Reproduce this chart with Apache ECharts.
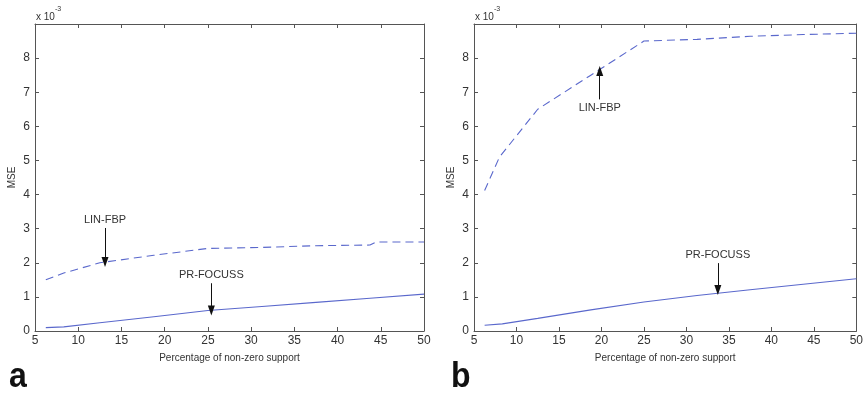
<!DOCTYPE html>
<html><head><meta charset="utf-8">
<script src="https://cdn.jsdelivr.net/npm/echarts@6/dist/echarts.min.js"></script>
<style>html,body{margin:0;padding:0;background:#fff}#c{width:866px;height:398px}</style>
</head><body><div id="c"></div>
<script>
// ---- data ----
var xTicks = [5,10,15,20,25,30,35,40,45,50];
var yTicks = [0,1,2,3,4,5,6,7,8];
// panel a
var aLinX = [6.25, 8.33, 12.5, 18.75, 25, 31.25, 37.5, 43.75, 44.5, 50];
var aLinY = [1.50, 1.70, 2.00, 2.22, 2.42, 2.45, 2.50, 2.52, 2.61, 2.61];
var aPrX  = [6.25, 8.33, 12.5, 18.75, 25, 31.25, 37.5, 43.75, 50];
var aPrY  = [0.10, 0.12, 0.24, 0.42, 0.60, 0.72, 0.84, 0.96, 1.08];
// panel b
var bLinX = [6.25, 8.0, 12.5, 18.75, 25, 31.25, 37.5, 43.75, 50];
var bLinY = [4.12, 5.10, 6.50, 7.50, 8.50, 8.55, 8.64, 8.69, 8.73];
var bPrX  = [6.25, 8.33, 12.5, 18.75, 25, 31.25, 37.5, 43.75, 50];
var bPrY  = [0.17, 0.21, 0.37, 0.62, 0.85, 1.04, 1.21, 1.37, 1.53];
// annotations: [label, x, yStart, yTip]
var annA = [["LIN-FBP", 13.1, 3.02, 2.02], ["PR-FOCUSS", 25.4, 1.40, 0.60]];
var annB = [["LIN-FBP", 19.8, 6.79, 7.62], ["PR-FOCUSS", 33.7, 1.99, 1.20]];
var panelLetters = ["a", "b"];

function pairs(xs, ys){ return xs.map(function(x,i){ return [x, ys[i]]; }); }

var axisCol = '#555';
var txtCol = '#333';
var lineCol = '#5a68cc';
var font = 'Liberation Sans, Arial, sans-serif';

var grids = [
  {left:35, right:442, top:24, bottom:67},
  {left:474, right:3, top:24, bottom:67}
];

var xAxes = [], yAxes = [];
grids.forEach(function(g, gi){
  xAxes.push({
    gridIndex: gi, type:'value', min:5, max:50, interval:5, position:'bottom',
    name:'Percentage of non-zero support', nameLocation:'middle', nameGap:22,
    nameTextStyle:{color:txtCol, fontSize:10, fontFamily:font},
    axisLine:{show:true, onZero:false, lineStyle:{color:axisCol, width:1}},
    axisTick:{show:true, inside:true, length:4, lineStyle:{color:axisCol}},
    axisLabel:{color:txtCol, fontSize:12, fontFamily:font, margin:4, showMinLabel:true, showMaxLabel:true},
    splitLine:{show:false}
  });
  xAxes.push({
    gridIndex: gi, type:'value', min:5, max:50, interval:5, position:'top',
    axisLine:{show:true, onZero:false, lineStyle:{color:axisCol, width:1}},
    axisTick:{show:true, inside:true, length:4, lineStyle:{color:axisCol}},
    axisLabel:{show:false}, splitLine:{show:false}
  });
  yAxes.push({
    gridIndex: gi, type:'value', min:0, max:9, interval:1, position:'left',
    name:'MSE', nameLocation:'middle', nameGap:18, nameRotate:90,
    nameTextStyle:{color:txtCol, fontSize:10, fontFamily:font},
    axisLine:{show:true, onZero:false, lineStyle:{color:axisCol, width:1}},
    axisTick:{show:true, inside:true, length:4, lineStyle:{color:axisCol}},
    axisLabel:{color:txtCol, fontSize:12, fontFamily:font, margin:5,
      formatter:function(v){ return yTicks.indexOf(v) >= 0 ? String(v) : ''; }},
    splitLine:{show:false}
  });
  yAxes.push({
    gridIndex: gi, type:'value', min:0, max:9, interval:1, position:'right',
    axisLine:{show:true, onZero:false, lineStyle:{color:axisCol, width:1}},
    axisTick:{show:true, inside:true, length:4, lineStyle:{color:axisCol}},
    axisLabel:{show:false}, splitLine:{show:false}
  });
});

function annLines(ann){
  return ann.map(function(a){
    return [
      {coord:[a[1], a[2]], label:{formatter:a[0]}},
      {coord:[a[1], a[3]]}
    ];
  });
}
function annSeries(ann, gi){
  return {
    type:'line', xAxisIndex:gi*2, yAxisIndex:gi*2, data:[], silent:true,
    markLine:{
      silent:true, animation:false,
      symbol:['none','triangle'], symbolSize:[7,10],
      lineStyle:{color:'#111', width:1, type:'solid'},
      label:{show:true, position:'start', distance:3, color:txtCol, fontSize:11, fontFamily:font},
      data: annLines(ann)
    }
  };
}
function lineSeries(name, xs, ys, gi, dashed){
  return {
    name:name, type:'line', xAxisIndex:gi*2, yAxisIndex:gi*2,
    data: pairs(xs, ys), showSymbol:false, symbol:'none', animation:false,
    lineStyle:{color:lineCol, width:1.1, type: dashed ? [8,5] : 'solid'}
  };
}

var series = [
  lineSeries('LIN-FBP', aLinX, aLinY, 0, true),
  lineSeries('PR-FOCUSS', aPrX, aPrY, 0, false),
  lineSeries('LIN-FBP', bLinX, bLinY, 1, true),
  lineSeries('PR-FOCUSS', bPrX, bPrY, 1, false),
  annSeries(annA, 0),
  annSeries(annB, 1)
];

function expText(left){
  return {
    type:'text', left:left, top:6,
    style:{
      text:'{b|x 10}{s|-3}', fill:txtCol,
      rich:{ b:{fontSize:10, fontFamily:font, fill:txtCol, padding:[6,0,0,0]},
             s:{fontSize:7, fontFamily:font, fill:txtCol, verticalAlign:'top', padding:[0,0,6,0]} }
    }
  };
}
function letter(txt, x){
  return {
    type:'text', x:x, y:360, scaleY:1.1, originY:0,
    style:{text:txt, font:'bold 32px '+font, fill:'#111', verticalAlign:'top'}
  };
}

var option = {
  backgroundColor:'#fff',
  animation:false,
  grid: grids,
  xAxis: xAxes,
  yAxis: yAxes,
  series: series,
  graphic: [
    expText(36), expText(475),
    letter(panelLetters[0], 9),
    letter(panelLetters[1], 451)
  ]
};
var chart = echarts.init(document.getElementById('c'), null, {renderer:'canvas'});
chart.setOption(option);
</script></body></html>
